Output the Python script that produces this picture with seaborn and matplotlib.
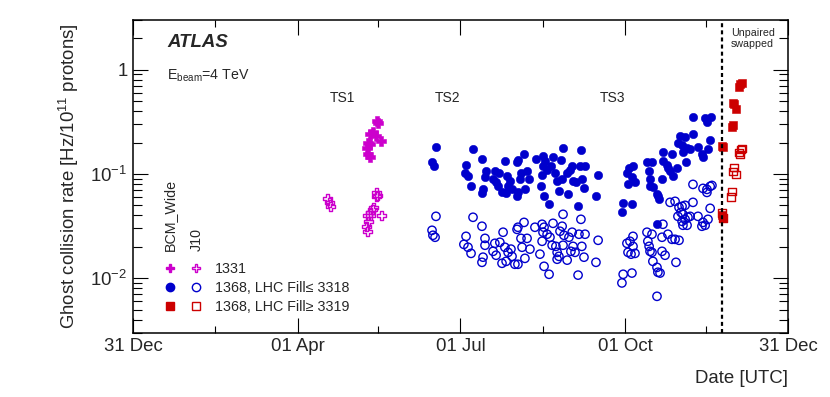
import numpy as np
import pandas as pd
import seaborn as sns
import matplotlib.pyplot as plt
import matplotlib.dates as mdates
from matplotlib.lines import Line2D
from matplotlib.legend_handler import HandlerTuple
from matplotlib.ticker import LogLocator, NullFormatter

# days counted from 31 Dec 2011, rates in Hz / 1e11 protons
# BCM 1331 (magenta)
mag_bcm_day = [136.3, 136.9, 134.1, 132.5, 135.8, 131.3, 132.5, 138.6, 130.7, 131.3, 132.5]
mag_bcm_rate = [0.325, 0.31, 0.25, 0.239, 0.233, 0.2, 0.195, 0.205, 0.179, 0.154, 0.147]
mag_j10_day = [108.9, 109.6, 110.1, 136.3, 136.9, 135.8, 134.6, 134.1, 132.5, 138.6, 131.3,
               131.8, 130.7, 131.3, 133.0]
mag_j10_rate = [0.058, 0.053, 0.049, 0.0665, 0.062, 0.061, 0.048, 0.046, 0.043, 0.040, 0.040,
                0.035, 0.031, 0.028, 0.040]

# BCM 1368, LHC fill <= 3318 (blue)
blue_bcm_day = [169.3, 167.1, 168.2, 190.0, 186.1, 185.5, 187.2, 195.0, 197.3, 196.7,
                195.6, 195.0, 188.9, 202.2, 204.5, 201.2, 202.9, 204.0, 207.8, 209.0,
                210.6, 209.6, 206.2, 208.5, 211.8, 214.6, 215.1, 214.6, 215.1, 218.5,
                216.8, 216.2, 220.2, 221.3, 219.0, 225.2, 229.1, 230.2, 229.1, 231.4,
                228.6, 227.9, 229.7, 232.5, 234.7, 233.5, 235.8, 237.0, 238.0, 239.8,
                240.3, 239.1, 242.6, 244.2, 245.4, 245.9, 247.5, 249.8, 250.3, 252.6,
                250.8, 252.0, 248.7, 243.1, 259.9, 258.7, 273.9, 278.8, 273.2, 276.0,
                277.2, 279.4, 278.8, 280.5, 276.6, 287.2, 290.0, 288.4, 288.9, 290.5,
                288.9, 292.8, 294.0, 293.3, 295.6, 296.1, 296.1, 298.4, 298.9, 300.1,
                301.2, 301.7, 304.0, 305.7, 306.8, 304.5, 308.5, 309.6, 307.3, 311.3,
                312.9, 312.9, 309.0, 315.7, 317.9, 318.5, 321.3, 322.5, 320.7, 323.0,
                319.7, 292.8]
blue_bcm_rate = [0.183, 0.129, 0.118, 0.175, 0.123, 0.101, 0.0946, 0.138, 0.106, 0.0926,
                 0.0711, 0.0651, 0.076, 0.106, 0.103, 0.0886, 0.0829, 0.076, 0.132, 0.0946,
                 0.0848, 0.076, 0.0665, 0.0651, 0.0711, 0.0609, 0.0665, 0.129, 0.135, 0.157,
                 0.103, 0.0886, 0.106, 0.0886, 0.0711, 0.138, 0.150, 0.132, 0.118, 0.110,
                 0.0968, 0.076, 0.0609, 0.0511, 0.144, 0.118, 0.103, 0.0848, 0.068, 0.0886,
                 0.179, 0.135, 0.103, 0.110, 0.118, 0.0848, 0.0829, 0.118, 0.168, 0.118,
                 0.0886, 0.0727, 0.0489, 0.0637, 0.0968, 0.0609, 0.0522, 0.0511, 0.0428, 0.101,
                 0.115, 0.118, 0.0926, 0.0829, 0.0794, 0.129, 0.129, 0.106, 0.0886, 0.0743,
                 0.076, 0.0637, 0.057, 0.0609, 0.0886, 0.132, 0.161, 0.123, 0.115, 0.106,
                 0.154, 0.0946, 0.115, 0.229, 0.191, 0.2, 0.224, 0.179, 0.161, 0.172,
                 0.239, 0.355, 0.129, 0.183, 0.154, 0.144, 0.172, 0.214, 0.318, 0.355,
                 0.347, 0.0329]
blue_j10_day = [169.3, 167.1, 167.6, 168.8, 190.0, 195.0, 186.1, 184.9, 187.2, 188.9,
                195.6, 195.0, 196.7, 196.7, 202.2, 201.2, 202.9, 205.0, 206.8, 207.8,
                206.2, 208.5, 209.6, 211.2, 211.8, 213.4, 215.1, 214.6, 215.1, 218.5,
                216.8, 217.4, 220.2, 221.8, 219.0, 224.6, 228.6, 229.7, 231.4, 229.1,
                228.6, 227.4, 229.7, 232.5, 233.0, 234.7, 234.2, 236.3, 237.0, 238.0,
                237.0, 239.8, 240.3, 238.6, 240.8, 240.3, 243.6, 245.4, 244.7, 247.0,
                245.9, 249.2, 250.3, 252.6, 250.8, 252.0, 248.7, 242.6, 258.7, 259.9,
                273.9, 278.8, 273.2, 279.4, 277.7, 276.6, 278.3, 280.5, 276.0, 279.4,
                287.2, 290.0, 287.7, 288.4, 288.9, 290.0, 290.5, 292.8, 293.3, 294.5,
                292.8, 295.6, 297.3, 295.6, 296.1, 298.9, 301.2, 302.9, 305.1, 303.4,
                300.1, 302.9, 305.1, 306.8, 308.5, 306.2, 304.5, 307.3, 310.1, 306.8,
                308.5, 311.3, 307.3, 309.6, 312.9, 315.7, 318.5, 317.9, 319.7, 321.3,
                322.5, 318.5, 320.7, 322.5, 320.7, 323.5, 312.9]
blue_j10_rate = [0.0392, 0.0288, 0.0258, 0.0247, 0.0384, 0.0315, 0.0252, 0.0211, 0.0198, 0.0173,
                 0.0159, 0.0142, 0.0241, 0.0207, 0.0216, 0.0181, 0.0166, 0.0221, 0.0276, 0.0198,
                 0.0139, 0.0145, 0.0177, 0.019, 0.0162, 0.0136, 0.0136, 0.0294, 0.0308, 0.0343,
                 0.0241, 0.0198, 0.0241, 0.019, 0.0155, 0.0308, 0.0329, 0.0308, 0.0264, 0.0276,
                 0.0226, 0.017, 0.013, 0.0109, 0.0247, 0.0336, 0.0207, 0.0202, 0.0177, 0.0162,
                 0.0152, 0.0315, 0.041, 0.0282, 0.0258, 0.0207, 0.0247, 0.0276, 0.0181, 0.0177,
                 0.0202, 0.0264, 0.0367, 0.0264, 0.0202, 0.0159, 0.0107, 0.0149, 0.0142, 0.0231,
                 0.0109, 0.0112, 0.009, 0.0252, 0.0226, 0.0177, 0.017, 0.0173, 0.0216, 0.0202,
                 0.0276, 0.0264, 0.0226, 0.0202, 0.0181, 0.0177, 0.0145, 0.0127, 0.0114, 0.0112,
                 0.0067, 0.0181, 0.0166, 0.0247, 0.0329, 0.0264, 0.0236, 0.0236, 0.0231, 0.0142,
                 0.0534, 0.0546, 0.0478, 0.0489, 0.05, 0.0428, 0.0392, 0.041, 0.0384, 0.0351,
                 0.0367, 0.0392, 0.0322, 0.0322, 0.0534, 0.0392, 0.0343, 0.0315, 0.0322, 0.0367,
                 0.0468, 0.0727, 0.0711, 0.076, 0.0665, 0.0776, 0.0794]

# BCM 1368, LHC fill >= 3319 (red), unpaired bunches swapped
red_bcm_day = [329.1, 329.7, 329.1, 329.7, 334.7, 335.3, 335.8, 337.0, 335.3, 339.2, 340.3, 338.6]
red_bcm_rate = [0.187, 0.183, 0.0401, 0.0375, 0.285, 0.298, 0.47, 0.42, 0.48, 0.73, 0.75, 0.69]
red_j10_day = [339.8, 339.2, 338.6, 340.3, 335.8, 335.3, 337.0, 334.7, 334.2, 329.1, 329.7]
red_j10_rate = [0.172, 0.154, 0.161, 0.175, 0.115, 0.106, 0.099, 0.068, 0.06, 0.042, 0.038]

legend_labels = ['1331', '1368, LHC Fill\u2264 3318', '1368, LHC Fill\u2265 3319']
ts_labels = ['TS1', 'TS2', 'TS3']
ts_days = [117, 176, 268]
swap_day = 329.0

major_days = [0, 92, 183, 275, 366]
major_labels = ['31 Dec', '01 Apr', '01 Jul', '01 Oct', '31 Dec']
minor_days = [46, 137, 229, 320]

MAG = '#cc00cc'
BLUE = '#0000cc'
RED = '#cc0000'

start = pd.Timestamp('2011-12-31')


def to_date(days):
    return start + pd.to_timedelta(np.asarray(days, dtype=float), unit='D')


sns.set_style('ticks')
plt.rcParams['font.family'] = ['Liberation Sans', 'DejaVu Sans']
plt.rcParams['mathtext.fontset'] = 'custom'
plt.rcParams['mathtext.rm'] = 'Liberation Sans'
plt.rcParams['mathtext.it'] = 'Liberation Sans:italic'
plt.rcParams['mathtext.bf'] = 'Liberation Sans:bold'

fig = plt.figure(figsize=(8.3, 3.97), dpi=100)
ax = fig.add_axes([0.1602, 0.162, 0.7892, 0.7877])
ax.set_yscale('log')

series = [
    (mag_bcm_day, mag_bcm_rate, 'P', MAG, True, 42),
    (mag_j10_day, mag_j10_rate, 'P', MAG, False, 42),
    (blue_bcm_day, blue_bcm_rate, 'o', BLUE, True, 36),
    (blue_j10_day, blue_j10_rate, 'o', BLUE, False, 36),
    (red_bcm_day, red_bcm_rate, 's', RED, True, 30),
    (red_j10_day, red_j10_rate, 's', RED, False, 30),
]
for days, rates, marker, col, filled, size in series:
    if filled:
        sns.scatterplot(x=to_date(days), y=rates, marker=marker, color=col,
                        edgecolor=col, linewidth=0.4, s=size, ax=ax)
    else:
        sns.scatterplot(x=to_date(days), y=rates, marker=marker, color=col,
                        facecolor='none', edgecolor=col, linewidth=1.0, s=size, ax=ax)

ax.axvline(mdates.date2num(to_date([swap_day]))[0], color='k', lw=1.6, ls=(0, (1.8, 1.4)))

ax.set_xlim(to_date([0])[0], to_date([366])[0])
ax.set_ylim(0.003, 3.0)
ax.set_xticks(to_date(major_days), labels=major_labels)
ax.set_xticks(to_date(minor_days), minor=True)
ax.set_yticks([0.01, 0.1, 1], labels=[r'$10^{-2}$', r'$10^{-1}$', '1'])
ax.yaxis.set_minor_locator(LogLocator(base=10, subs=np.arange(2, 10)))
ax.yaxis.set_minor_formatter(NullFormatter())

ax.tick_params(which='both', direction='in', top=True, right=True, width=0.8,
               labelsize=13.4, pad=4, color='black')
ax.tick_params(which='major', length=10.5)
ax.tick_params(axis='x', which='minor', length=5)
ax.tick_params(axis='y', which='minor', length=6.5)
for sp in ax.spines.values():
    sp.set_linewidth(1.1)
    sp.set_color('black')

ax.set_ylabel(r'Ghost collision rate [Hz/10$^{11}$ protons]', fontsize=13.4)
ax.yaxis.set_label_coords(-0.080, 0.5)
ax.set_xlabel('Date [UTC]', fontsize=13.4, loc='right')
ax.xaxis.set_label_coords(1.0, -0.12)

ax.text(0.052, 0.927, 'ATLAS', transform=ax.transAxes, fontsize=13.4,
        fontweight='bold', fontstyle='italic', va='center', ha='left')
ax.text(0.052, 0.822, r'E$_{\mathrm{beam}}$=4 TeV', transform=ax.transAxes,
        fontsize=10.2, va='center', ha='left')
for d, t in zip(ts_days, ts_labels):
    ax.text(mdates.date2num(to_date([d]))[0], 0.752, t, transform=ax.get_xaxis_transform(),
            ha='center', va='center', fontsize=10)
ax.text(0.913, 0.975, 'Unpaired\nswapped', transform=ax.transAxes, fontsize=7.7,
        va='top', ha='left', linespacing=1.1)

# legend: filled = BCM_Wide, open = J10
def key(marker, col, filled):
    return Line2D([], [], ls='none', marker=marker, color=col,
                  mfc=col if filled else 'none', mec=col, ms=6, mew=1.0)


handles = [(key('P', MAG, True), key('P', MAG, False)),
           (key('o', BLUE, True), key('o', BLUE, False)),
           (key('s', RED, True), key('s', RED, False))]
ax.legend(handles, legend_labels, handler_map={tuple: HandlerTuple(ndivide=None, pad=0.84)},
          loc='lower left', bbox_to_anchor=(0.0458, 0.06), frameon=False, fontsize=10.3,
          handlelength=2.8, handletextpad=0.84, labelspacing=0.34, borderpad=0, borderaxespad=0)
ax.text(0.0565, 0.262, 'BCM_Wide', rotation=90, ha='center', va='bottom',
        fontsize=10.3, transform=ax.transAxes)
ax.text(0.0977, 0.262, 'J10', rotation=90, ha='center', va='bottom',
        fontsize=10.3, transform=ax.transAxes)

fig.savefig('out.png', dpi=100)
